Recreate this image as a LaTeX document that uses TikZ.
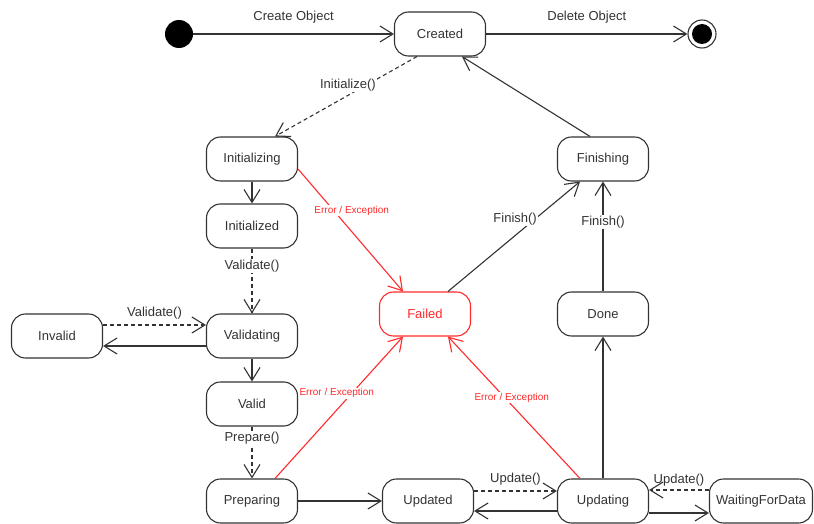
\documentclass[tikz,border=0pt]{standalone}
\usepackage{fontspec}
\setmainfont{Liberation Sans}
\usetikzlibrary{arrows.meta}
\definecolor{ink}{HTML}{333333}
\definecolor{err}{HTML}{FF2A2A}
\begin{document}
\begin{tikzpicture}[x=1pt,y=-1pt,
  state/.style={draw=ink, text=ink, rounded corners=14pt, minimum width=91pt, minimum height=44pt, line width=1.1pt, inner sep=2pt, font=\fontsize{13}{15}\selectfont},
  arr/.style={draw=ink, -{Straight Barb[length=13pt,width=16pt,line width=1.1pt]}, line width=1.1pt},
  dsh/.style={dash pattern=on 4pt off 3pt},
  errarr/.style={arr, draw=err},
  lbl/.style={text=ink, font=\fontsize{13}{15}\selectfont, inner sep=1pt},
  wlbl/.style={lbl, fill=white},
  elbl/.style={text=err, font=\fontsize{10}{12}\selectfont, inner sep=1pt, fill=white}]
\useasboundingbox (0,0) rectangle (814,524);
\fill[white] (0,0) rectangle (814,524);

\node[circle, fill=black, minimum size=28pt, inner sep=0pt] (init) at (179,34) {};
\node[circle, draw=ink, line width=1.1pt, minimum size=28pt, inner sep=0pt] (final) at (702,34) {};
\node[circle, fill=black, minimum size=20pt, inner sep=0pt] (finaldot) at (702,34) {};

\node[state] (created) at (440,34) {Created};
\node[state] (initializing) at (252,159) {Initializing};
\node[state] (initialized) at (252,226) {Initialized};
\node[state] (validating) at (252,336) {Validating};
\node[state] (invalid) at (57,336) {Invalid};
\node[state] (valid) at (252,404) {Valid};
\node[state] (preparing) at (252,501) {Preparing};
\node[state] (updated) at (428,501) {Updated};
\node[state] (updating) at (603,501) {Updating};
\node[state, minimum width=103pt] (waiting) at (761,501) {WaitingForData};
\node[state, draw=err, text=err] (failed) at (425,314) {Failed};
\node[state] (done) at (603,314) {Done};
\node[state] (finishing) at (603,159) {Finishing};

% top row
\draw[arr] (init) -- node[lbl, above=9pt] {Create Object} (created);
\draw[arr] (created) -- node[lbl, above=9pt] {Delete Object} (final);
\draw[arr, dsh] ([xshift=-23pt]created.south) -- node[wlbl, pos=0.36, xshift=-18pt] {Initialize()} ([xshift=23pt]initializing.north);
\draw[arr] ([xshift=-13pt]finishing.north) -- ([xshift=22pt]created.south);

% left column
\draw[arr] (initializing) -- (initialized);
\draw[arr, dsh] (initialized) -- node[wlbl, pos=0.27] {Validate()} (validating);
\draw[arr, dsh] ([yshift=11pt]invalid.east) -- node[lbl, above=4pt] {Validate()} ([yshift=11pt]validating.west);
\draw[arr] ([yshift=-10pt]validating.west) -- ([yshift=-10pt]invalid.east);
\draw[arr] (validating) -- (valid);
\draw[arr, dsh] (valid) -- node[wlbl, pos=0.23] {Prepare()} (preparing);

% bottom row
\draw[arr] (preparing) -- (updated);
\draw[arr, dsh] ([yshift=10pt]updated.east) -- node[lbl, above=4pt] {Update()} ([yshift=10pt]updating.west);
\draw[arr] ([yshift=-10pt]updating.west) -- ([yshift=-10pt]updated.east);
\draw[arr] ([yshift=-12pt]updating.east) -- ([yshift=-12pt]waiting.west);
\draw[arr, dsh] ([yshift=11pt]waiting.west) -- node[lbl, above=2pt] {Update()} ([yshift=11pt]updating.east);

% right column
\draw[arr] (updating) -- (done);
\draw[arr] (done) -- node[wlbl, pos=0.63] {Finish()} (finishing);
\draw[arr] ([xshift=23pt]failed.north) -- node[wlbl, pos=0.66, xshift=-20pt] {Finish()} ([xshift=-23pt]finishing.south);

% errors
\draw[errarr] ([yshift=-10pt]initializing.east) -- node[elbl, pos=0.34, xshift=18pt] {Error / Exception} ([xshift=-22pt]failed.north);
\draw[errarr] ([xshift=23pt]preparing.north) -- node[elbl, pos=0.6, xshift=-15pt] {Error / Exception} ([xshift=-22pt]failed.south);
\draw[errarr] ([xshift=-23pt]updating.north) -- node[elbl, pos=0.57, xshift=7pt] {Error / Exception} ([xshift=23pt]failed.south);
\end{tikzpicture}
\end{document}
